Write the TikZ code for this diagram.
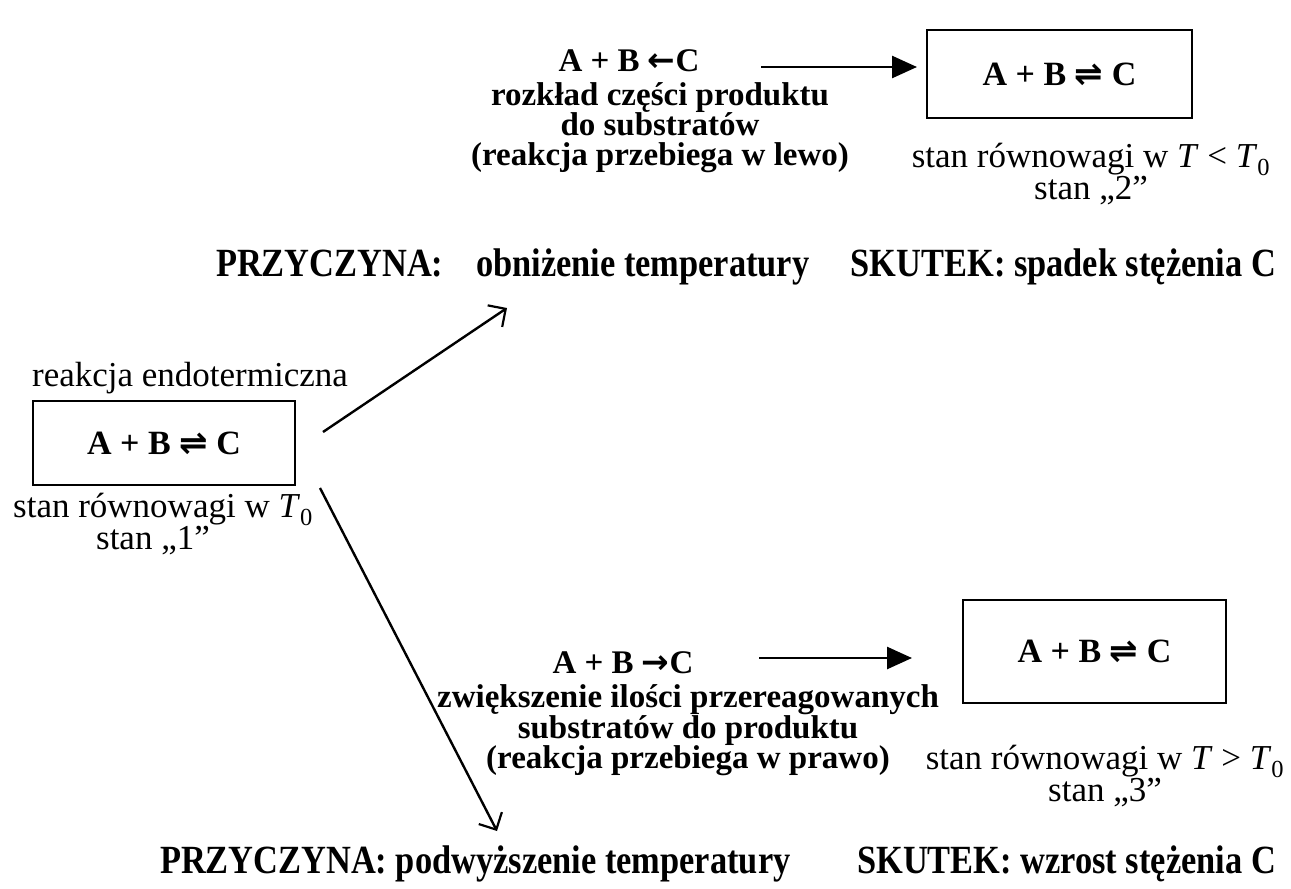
\documentclass[tikz,border=0pt]{standalone}
\usepackage{fontspec}
\setmainfont{Liberation Serif}
\newfontfamily\arrfont{DejaVu Sans}
\newfontfamily\condfont[FakeStretch=0.86]{Liberation Serif}
\usetikzlibrary{arrows.meta}
\newcommand{\myeq}{{\arrfont ⇌}}
\newcommand{\mylar}{{\arrfont ←}}
\newcommand{\myrar}{{\arrfont →}}
\begin{document}
\begin{tikzpicture}[x=1pt,y=-1pt,
  every node/.style={inner sep=0pt, outer sep=0pt},
  txt/.style={font=\fontsize{35}{28}\selectfont, align=center},
  btxt/.style={font=\fontsize{33}{30}\selectfont\bfseries, align=center},
  hdr/.style={font=\condfont\fontsize{40}{40}\selectfont\bfseries},
  eqbox/.style={draw, line width=2.2pt, font=\fontsize{34}{34}\selectfont\bfseries},
  diag/.style={line width=2.4pt, -{Straight Barb[length=13pt,width=26pt,line width=2.2pt]}},
  harrow/.style={line width=2.6pt, -{Triangle[length=25pt,width=22pt]}}]
\useasboundingbox[fill=white] (0,0) rectangle (1291,889);

% left part
\node[txt] (endo) at (190,378) {reakcja endotermiczna};
\node[eqbox, minimum width=262pt, minimum height=84pt] (lbox) at (164,443) {A + B \myeq{} C};
\node[txt] (lstan) at (163,524) {stan równowagi w \textit{T}\textsubscript{0}\\stan „1”\hspace*{20pt}};

% top branch
\node[btxt] (topf) at (629,61) {A + B \mylar{}C};
\node[btxt] (topd) at (660,128) {rozkład części produktu\\do substratów\\(reakcja przebiega w lewo)};
\node[eqbox, minimum width=265pt, minimum height=88pt] (tbox) at (1059.5,74) {A + B \myeq{} C};
\node[txt] (tstan) at (1091,174) {stan równowagi w \textit{T} < \textit{T}\textsubscript{0}\\stan „2”};
\node[hdr, anchor=base west] (tp1) at (216,276) {PRZYCZYNA:};
\node[hdr, anchor=base west] (tp2) at (476,276) {obniżenie temperatury};
\node[hdr, anchor=base east] (tp3) at (1276,276) {SKUTEK: spadek stężenia C};

% bottom branch
\node[btxt] (botf) at (623,663) {A + B \myrar{}C};
\node[btxt] (botd) at (688,730) {zwiększenie ilości przereagowanych\\substratów do produktu\\(reakcja przebiega w prawo)};
\node[eqbox, minimum width=263pt, minimum height=103pt] (bbox) at (1094.5,651.5) {A + B \myeq{} C};
\node[txt] (bstan) at (1105,776) {stan równowagi w \textit{T} > \textit{T}\textsubscript{0}\\stan „3”};
\node[hdr, anchor=base west] (bp1) at (160,873) {PRZYCZYNA: podwyższenie temperatury};
\node[hdr, anchor=base east] (bp2) at (1276,873) {SKUTEK: wzrost stężenia C};

% connectors
\coordinate (upend) at (507,308);
\coordinate (downend) at (497,831);
\draw[diag] ([shift={(28,-11)}]lbox.east) -- (upend);
\draw[diag] ([shift={(25,3)}]lbox.south east) -- (downend);
\draw[harrow] ([xshift=62,yshift=-6]topf.east) coordinate (h1) -- ([xshift=-10]h1 -| tbox.west);
\draw[harrow] ([xshift=66,yshift=5]botf.east) coordinate (h2) -- ([xshift=-51]h2 -| bbox.west);
\end{tikzpicture}
\end{document}
